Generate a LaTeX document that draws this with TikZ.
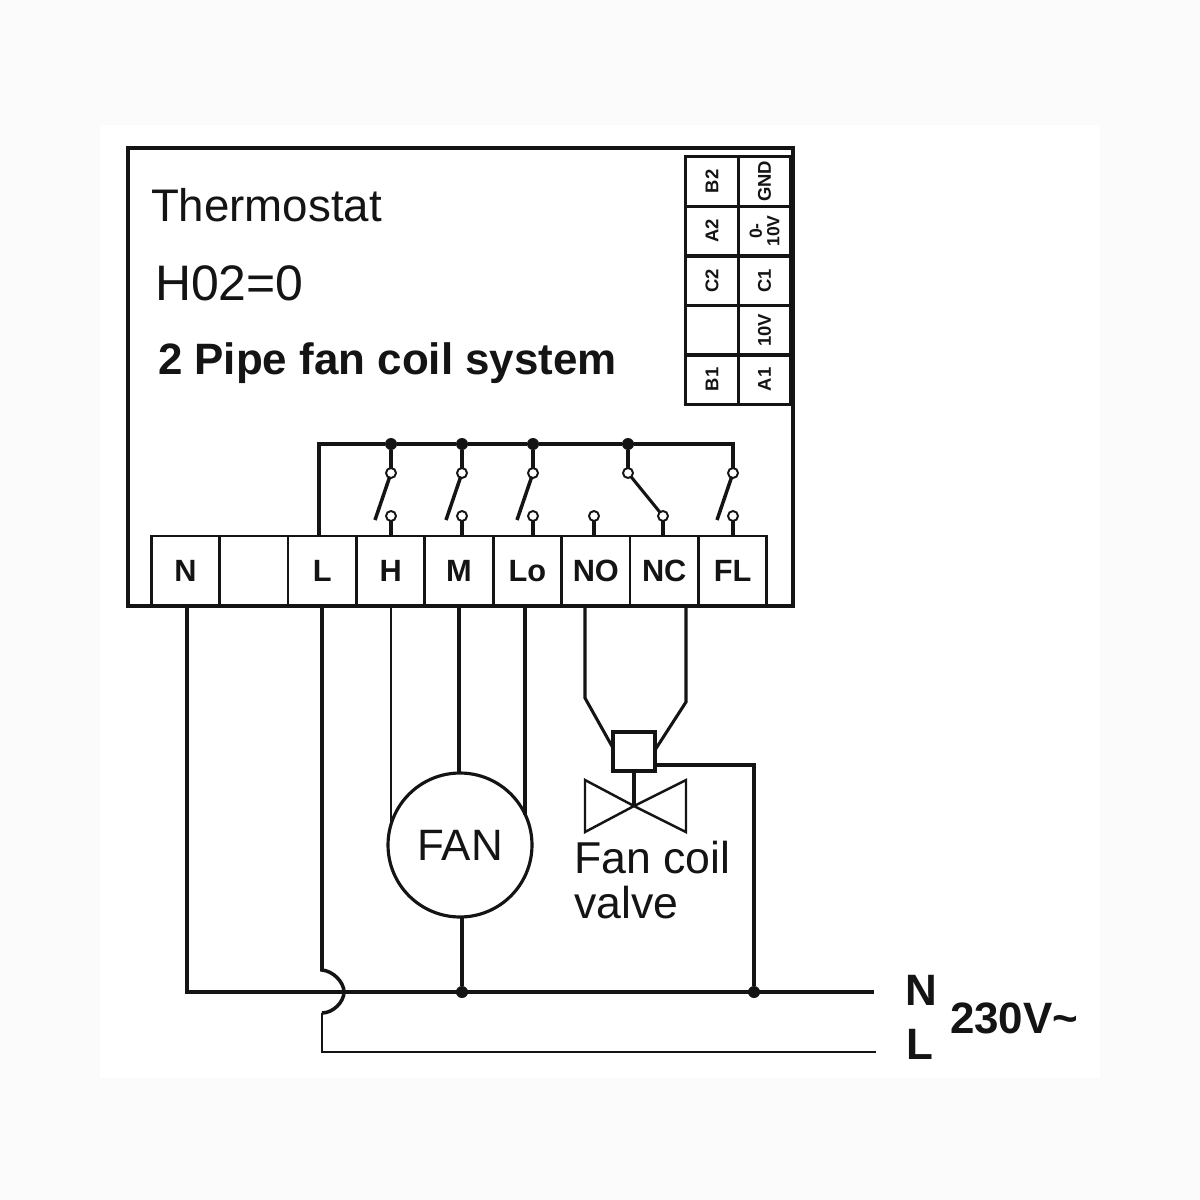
\documentclass[tikz,border=0pt]{standalone}
\usepackage{fontspec}
\setmainfont{Liberation Sans}
\usetikzlibrary{arrows}
\definecolor{pagegray}{gray}{0.985}
\definecolor{inkblack}{gray}{0.08}
\newcommand{\fs}[1]{\fontsize{#1}{#1}\selectfont}

\begin{document}
\begin{tikzpicture}[x=0.02cm, y=-0.02cm, node distance=1.368cm, color=inkblack, every node/.style={outer sep=0pt}]
	\tikzstyle{wire} = [line width=2pt]
	\tikzstyle{midwire} = [line width=1.75pt]
	\tikzstyle{thinwire} = [line width=1.4pt]
	\tikzstyle{terminal} = [draw, line width=1.6pt, minimum width=1.368cm, minimum height=1.4cm, inner sep=0pt, font=\fs{17.5}\bfseries]
	\tikzstyle{cell} = [draw, line width=1.6pt, minimum width=1.05cm, minimum height=0.99cm, inner sep=0pt]
	\tikzstyle{celltext} = [draw, line width=1.6pt, minimum width=0.99cm, minimum height=1.05cm, inner sep=0pt, align=center, font=\fs{10.5}\bfseries, rotate=90]
	\tikzstyle{contact} = [draw, line width=1.1pt, circle, fill=white, minimum size=0.2cm, inner sep=0pt]
	\tikzstyle{dotnode} = [fill, circle, minimum size=0.24cm, inner sep=0pt]
	\tikzstyle{bigtext} = [anchor=west, inner sep=0pt, font=\fs{25}]
	\useasboundingbox (0,0) rectangle (1200,1200);
	\fill[pagegray] (0,0) rectangle (1200,1200);
	\fill[white] (100,125) rectangle (1100,1078);
	% thermostat housing
	\node[draw, line width=1.8pt, minimum width=13.3cm, minimum height=9.16cm, inner sep=0pt] (housing) at (460.5,377) {};
	\node[bigtext, font=\fs{26}] (title) at (151,205) {Thermostat};
	\node[bigtext, font=\fs{28.4}] (param) at (155,283) {H02=0};
	\node[bigtext, font=\fs{25}\bfseries] (system) at (158,363) {2 Pipe fan coil system};
	% small terminal block
	\path
	node[celltext] at (712,181.5) (b2) {B2}
	node[celltext] at (712,231) (a2) {A2}
	node[celltext] at (712,281) (c2) {C2}
	node[cell] at (712,330.5) (blank) {}
	node[celltext] at (712,379.5) (b1) {B1}
	node[celltext, font=\fs{10.5}\bfseries] at (764.5,181.5) (gnd) {GND}
	node[celltext, font=\fs{10}\bfseries] at (764.5,231) (volt) {0-\\10V}
	node[celltext] at (764.5,281) (c1) {C1}
	node[celltext] at (764.5,330.5) (ten) {10V}
	node[celltext] at (764.5,379.5) (a1) {A1}
	;
	% main terminal row
	\path
	node[terminal] at (185.5,571) (tn) {N}
	node[terminal, right of=tn] (tx) {}
	node[terminal, right of=tx] (tl) {L}
	node[terminal, right of=tl] (th) {H}
	node[terminal, right of=th] (tm) {M}
	node[terminal, right of=tm] (tlo) {Lo}
	node[terminal, right of=tlo] (tno) {NO}
	node[terminal, right of=tno] (tnc) {NC}
	node[terminal, right of=tnc] (tfl) {FL}
	;
	% contacts and relay bus
	\path
	node[dotnode] at (391,444) (jh) {}
	node[dotnode] at (462,444) (jm) {}
	node[dotnode] at (533,444) (jlo) {}
	node[dotnode] at (628,444) (jno) {}
	node[contact] at (391,473) (uh) {}
	node[contact] at (462,473) (um) {}
	node[contact] at (533,473) (ulo) {}
	node[contact] at (628,473) (uno) {}
	node[contact] at (733,473) (ufl) {}
	node[contact] at (391,516) (dh) {}
	node[contact] at (462,516) (dm) {}
	node[contact] at (533,516) (dlo) {}
	node[contact] at (594,516) (dno) {}
	node[contact] at (663,516) (dnc) {}
	node[contact] at (733,516) (dfl) {}
	;
	\coordinate (busl) at (319,444);
	\coordinate (busr) at (733,444);
	\coordinate (bh) at (375,520);
	\coordinate (bm) at (446,520);
	\coordinate (blo) at (517,520);
	\coordinate (bfl) at (717,520);
	\draw[wire] (tl.north -| busl) -- (busl) -- (jh) -- (jm) -- (jlo) -- (jno) -- (busr) -- (ufl);
	\draw[wire] (jh) -- (uh);
	\draw[wire] (jm) -- (um);
	\draw[wire] (jlo) -- (ulo);
	\draw[wire] (jno) -- (uno);
	\draw[wire] (uh) -- (bh);
	\draw[wire] (um) -- (bm);
	\draw[wire] (ulo) -- (blo);
	\draw[wire] (ufl) -- (bfl);
	\draw[midwire] (uno) -- (dnc);
	\draw[midwire] (dh) -- (th.north -| dh);
	\draw[midwire] (dm) -- (tm.north -| dm);
	\draw[midwire] (dlo) -- (tlo.north -| dlo);
	\draw[midwire] (dno) -- (tno.north -| dno);
	\draw[midwire] (dnc) -- (tnc.north -| dnc);
	\draw[midwire] (dfl) -- (tfl.north -| dfl);
	% fan and valve
	\node[draw, line width=1.8pt, circle, minimum size=2.88cm, inner sep=0pt, font=\fs{25}] at (460,845) (fan) {FAN};
	\node[draw, line width=1.8pt, minimum width=0.84cm, minimum height=0.78cm, inner sep=0pt] at (634,751.5) (actuator) {};
	\coordinate (valvec) at (634,806);
	\coordinate (nobend) at (585,698);
	\coordinate (ncbend) at (686,702);
	\coordinate (vturn) at (754,765);
	\node[bigtext, font=\fs{25.4}] at (574,858) (coil) {Fan coil};
	\node[bigtext, font=\fs{25.4}] at (574,903) (valve) {valve};
	\draw[thinwire, line join=miter] (valvec) -- (585,780) -- (585,832) -- (valvec) -- (686,780) -- (686,832) -- cycle;
	\draw[wire] (actuator.south) -- (valvec);
	% field wiring
	\node[dotnode] at (462,992) (jfan) {};
	\node[dotnode] at (754,992) (jvalve) {};
	\coordinate (ncorner) at (187,992);
	\coordinate (nend) at (872,992);
	\coordinate (lhop) at (322,970);
	\coordinate (lland) at (322,1013);
	\coordinate (lcorner) at (322,1052);
	\coordinate (lend) at (876,1052);
	\draw[midwire] (tn.south -| ncorner) -- (ncorner);
	\draw[wire, line cap=rect] (ncorner) -- (jfan) -- (jvalve) -- (nend);
	\draw[wire] (tl.south -| lhop) -- (lhop) .. controls (333,971) and (344,982) .. (344,992) .. controls (344,1002) and (333,1013) .. (lland);
	\draw[thinwire] (lland) -- (lcorner) -- (lend);
	\draw[thinwire] (th.south -| fan.164) -- (fan.164);
	\draw[wire] (tm.south) -- (fan.north -| tm.south);
	\draw[wire] (tlo.south -| fan.25) -- (fan.25);
	\draw[wire] (fan.south -| jfan) -- (jfan);
	\draw[wire] (actuator.east |- vturn) -- (vturn) -- (jvalve);
	\draw[midwire] (tno.south -| nobend) -- (nobend) -- (actuator.west |- 0,748);
	\draw[midwire] (tnc.south -| ncbend) -- (ncbend) -- (actuator.east |- 0,750);
	% supply
	\node[bigtext, font=\fs{25}\bfseries] at (905,990) (supn) {N};
	\node[bigtext, font=\fs{25}\bfseries] at (906,1044) (supl) {L};
	\node[bigtext, font=\fs{25}\bfseries] at (950,1018) (volts) {230V\char`\~};
\end{tikzpicture}
\end{document}
